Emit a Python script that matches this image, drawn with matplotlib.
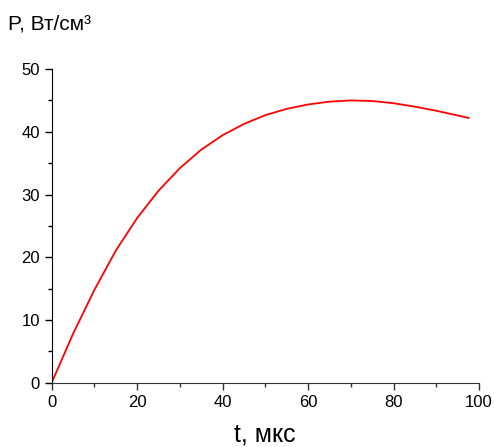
import numpy as np
import matplotlib.pyplot as plt
from matplotlib.ticker import MultipleLocator

plt.rcParams['font.family'] = ['Liberation Sans', 'DejaVu Sans']

# power vs time
t = [0, 5, 10, 15, 20, 25, 30, 35, 40, 45, 50, 55, 60, 65, 70, 75, 80, 85, 90, 95, 97.6]
P = [0, 7.8, 14.8, 21.05, 26.25, 30.6, 34.2, 37.15, 39.45, 41.25, 42.65, 43.65, 44.35,
     44.8, 45.0, 44.9, 44.55, 44.0, 43.35, 42.6, 42.2]

fig = plt.figure(figsize=(4.94, 4.47), dpi=100)
ax = fig.add_axes([0.1046, 0.1437, 0.8650, 0.7019])

ax.plot(t, P, color='red', lw=1.3)

ax.set_xlim(0, 100)
ax.set_ylim(0, 50)
ax.xaxis.set_major_locator(MultipleLocator(20))
ax.xaxis.set_minor_locator(MultipleLocator(10))
ax.yaxis.set_major_locator(MultipleLocator(10))
ax.yaxis.set_minor_locator(MultipleLocator(5))
ax.tick_params(which='major', length=5, width=1, labelsize=12, direction='out')
ax.tick_params(which='minor', length=3, width=1, direction='out')
ax.tick_params(axis='x', which='both', colors='#333333', labelcolor='black')

for s in ['top', 'right']:
    ax.spines[s].set_visible(False)
ax.spines['bottom'].set_color('#333333')
ax.spines['left'].set_color('black')

fig.text(0.536, 0.013, 't, мкс', fontsize=18, ha='center', va='baseline')
fig.text(0.016, 0.935, 'P, Вт/см³', fontsize=15, ha='left', va='baseline')

fig.savefig('out.png', dpi=100)
